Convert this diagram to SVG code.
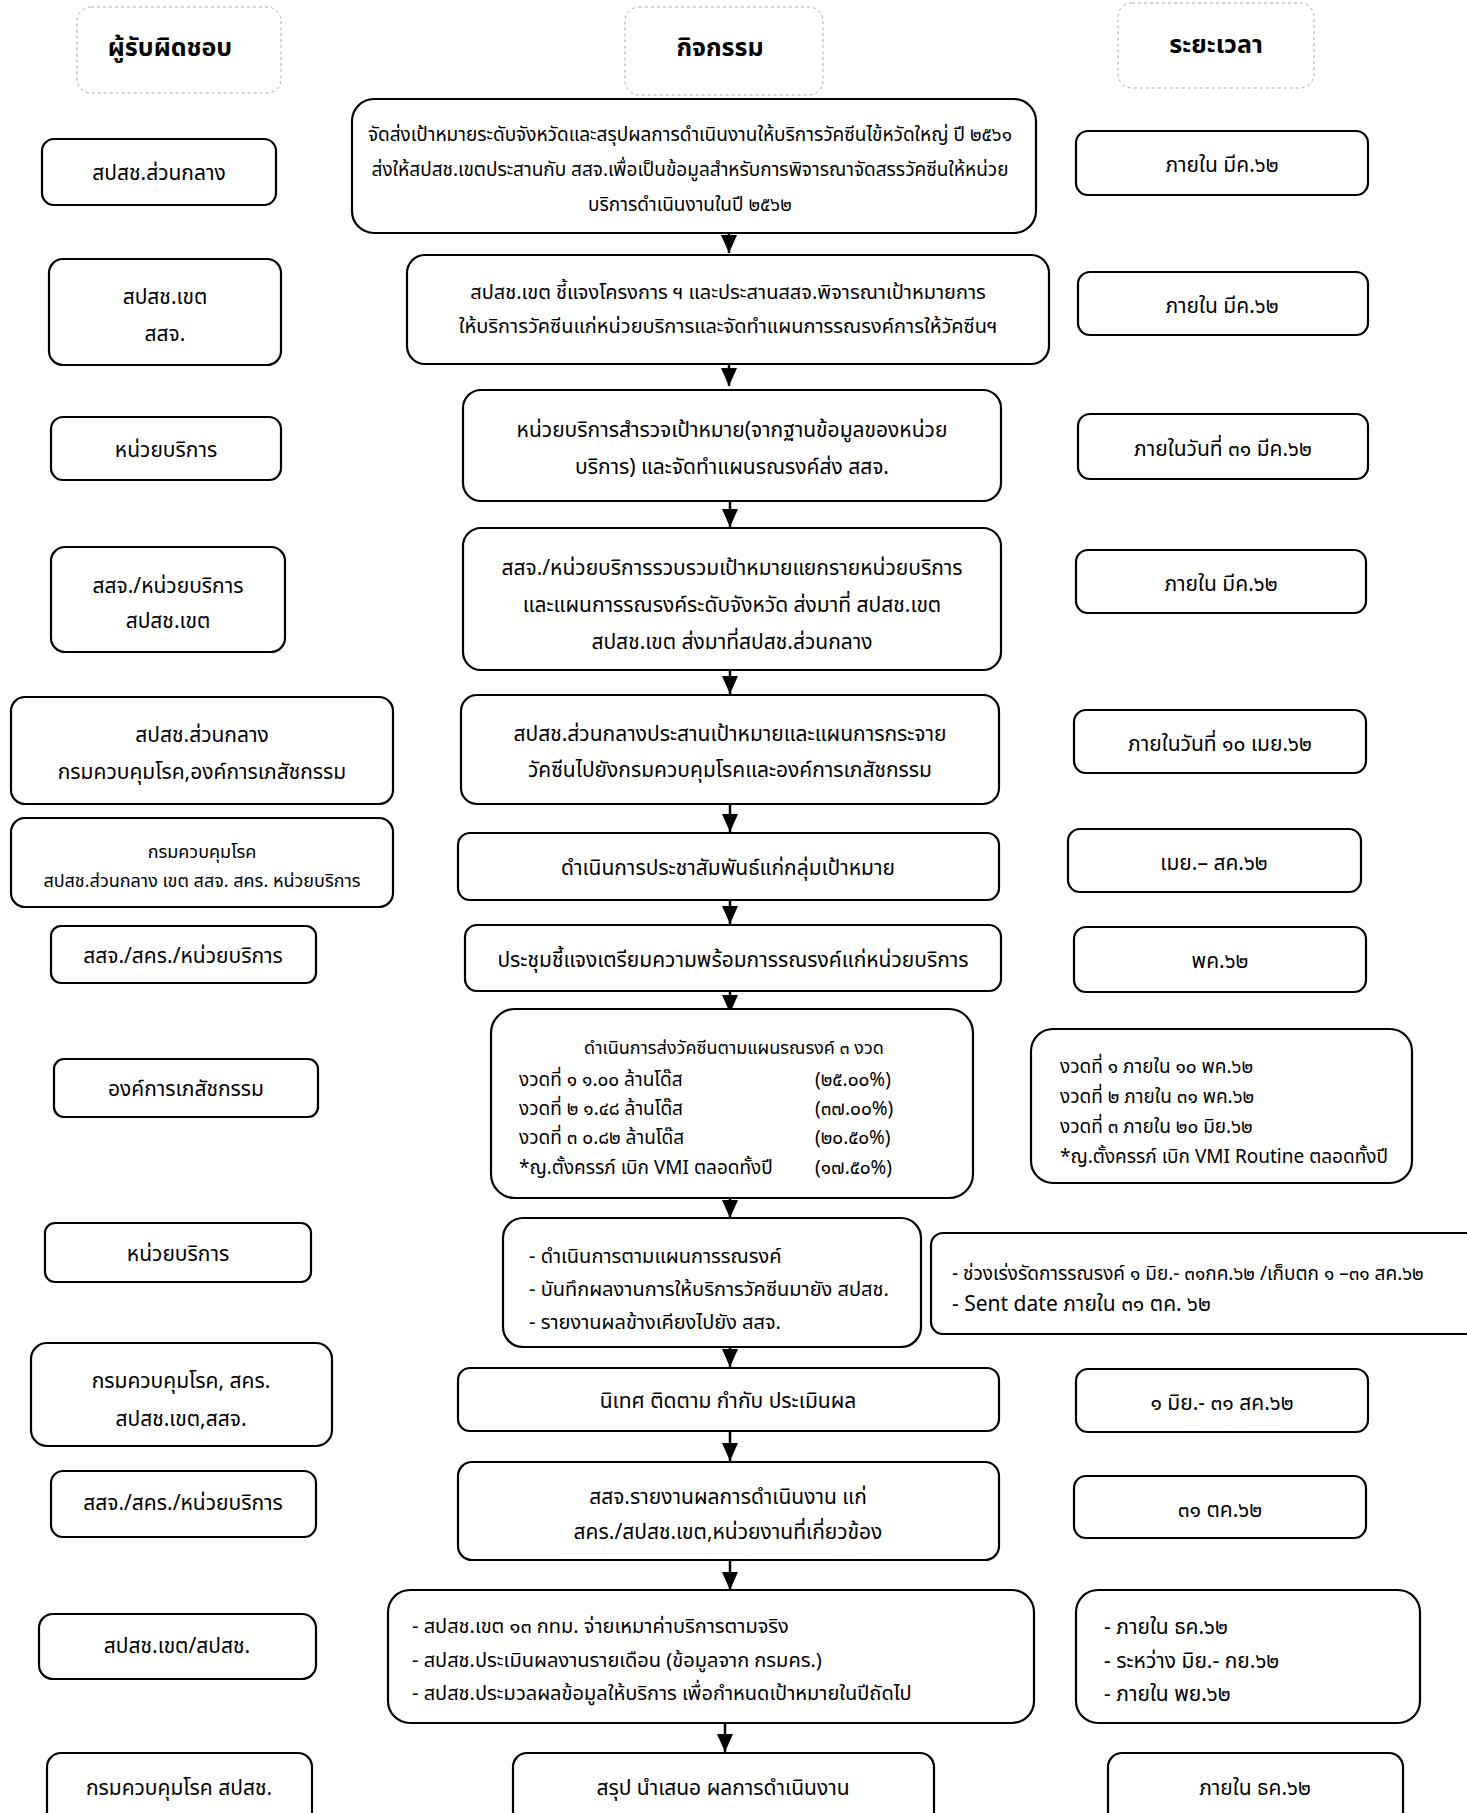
<svg xmlns="http://www.w3.org/2000/svg" width="1467" height="1813" viewBox="0 0 1467 1813">
<style>
.bg{fill:#fff}
.box{fill:#fff;stroke:#000;stroke-width:2.2}
.hdr{fill:none;stroke:#aaa;stroke-width:1;stroke-dasharray:3 3}
.t{font-family:"Noto Sans Thai","Noto Sans","DejaVu Sans",sans-serif;font-size:21px;fill:#000;text-anchor:middle;dominant-baseline:central}
.l{text-anchor:start}
.c1{font-size:19px}
.c2{font-size:20px}
.s{font-size:18px}
.m{font-size:19px}
.h{font-size:25px;font-weight:bold}
.con{stroke:#000;stroke-width:2.5;fill:none}
</style>
<defs>
<marker id="ah" markerUnits="userSpaceOnUse" markerWidth="18" markerHeight="16" refX="18" refY="8" orient="auto" viewBox="0 0 18 16">
<path d="M0,0 L18,8 L0,16 Z" fill="#000"/>
</marker>
</defs>
<rect class="bg" x="0" y="0" width="1467" height="1813"/>

<g id="headers">
<g id="h1"><rect class="hdr" x="77" y="7" width="204" height="86" rx="14"/><text class="t h" x="170" y="48">ผู้รับผิดชอบ</text></g>
<g id="h2"><rect class="hdr" x="625" y="7" width="198" height="88" rx="14"/><text class="t h" x="720" y="48">กิจกรรม</text></g>
<g id="h3"><rect class="hdr" x="1118" y="3" width="196" height="85" rx="14"/><text class="t h" x="1216" y="45">ระยะเวลา</text></g>
</g>

<g id="connectors">
<line class="con" x1="729" y1="233" x2="729" y2="253" marker-end="url(#ah)"/>
<line class="con" x1="729" y1="364" x2="729" y2="386" marker-end="url(#ah)"/>
<line class="con" x1="730" y1="501" x2="730" y2="527" marker-end="url(#ah)"/>
<line class="con" x1="730" y1="670" x2="730" y2="694" marker-end="url(#ah)"/>
<line class="con" x1="730" y1="804" x2="730" y2="832" marker-end="url(#ah)"/>
<line class="con" x1="730" y1="900" x2="730" y2="924" marker-end="url(#ah)"/>
<line class="con" x1="730" y1="991" x2="730" y2="1013" marker-end="url(#ah)"/>
<line class="con" x1="730" y1="1198" x2="730" y2="1218" marker-end="url(#ah)"/>
<line class="con" x1="730" y1="1347" x2="730" y2="1367" marker-end="url(#ah)"/>
<line class="con" x1="730" y1="1431" x2="730" y2="1461" marker-end="url(#ah)"/>
<line class="con" x1="730" y1="1560" x2="730" y2="1590" marker-end="url(#ah)"/>
<line class="con" x1="725" y1="1723" x2="725" y2="1752" marker-end="url(#ah)"/>
</g>

<g id="r1l"><rect class="box" x="42" y="139" width="234" height="66" rx="12"/><text class="t" x="159" y="173">สปสช.ส่วนกลาง</text></g>
<g id="r1c"><rect class="box" x="352" y="99" width="684" height="134" rx="22"/>
<text class="t c1" x="690" y="135">จัดส่งเป้าหมายระดับจังหวัดและสรุปผลการดำเนินงานให้บริการวัคซีนไข้หวัดใหญ่ ปี ๒๕๖๑</text>
<text class="t c1" x="690" y="170">ส่งให้สปสช.เขตประสานกับ สสจ.เพื่อเป็นข้อมูลสำหรับการพิจารณาจัดสรรวัคซีนให้หน่วย</text>
<text class="t c1" x="690" y="205">บริการดำเนินงานในปี  ๒๕๖๒</text></g>
<g id="r1r"><rect class="box" x="1076" y="131" width="292" height="64" rx="12"/><text class="t" x="1222" y="165">ภายใน มีค.๖๒</text></g>

<g id="r2l"><rect class="box" x="49" y="259" width="232" height="106" rx="14"/><text class="t" x="165" y="297">สปสช.เขต</text><text class="t" x="165" y="334">สสจ.</text></g>
<g id="r2c"><rect class="box" x="407" y="255" width="642" height="109" rx="18"/>
<text class="t c2" x="728" y="293">สปสช.เขต ชี้แจงโครงการ ฯ และประสานสสจ.พิจารณาเป้าหมายการ</text>
<text class="t c2" x="728" y="327">ให้บริการวัคซีนแก่หน่วยบริการและจัดทำแผนการรณรงค์การให้วัคซีนฯ</text></g>
<g id="r2r"><rect class="box" x="1078" y="272" width="290" height="63" rx="12"/><text class="t" x="1222" y="306">ภายใน มีค.๖๒</text></g>

<g id="r3l"><rect class="box" x="51" y="417" width="230" height="63" rx="12"/><text class="t" x="166" y="450">หน่วยบริการ</text></g>
<g id="r3c"><rect class="box" x="463" y="390" width="538" height="111" rx="18"/>
<text class="t" x="732" y="430">หน่วยบริการสำรวจเป้าหมาย(จากฐานข้อมูลของหน่วย</text>
<text class="t" x="732" y="467">บริการ) และจัดทำแผนรณรงค์ส่ง สสจ.</text></g>
<g id="r3r"><rect class="box" x="1078" y="414" width="290" height="65" rx="12"/><text class="t" x="1223" y="449">ภายในวันที่ ๓๑ มีค.๖๒</text></g>

<g id="r4l"><rect class="box" x="51" y="547" width="234" height="105" rx="14"/><text class="t" x="168" y="586">สสจ./หน่วยบริการ</text><text class="t" x="168" y="621">สปสช.เขต</text></g>
<g id="r4c"><rect class="box" x="463" y="528" width="538" height="142" rx="18"/>
<text class="t" x="732" y="568">สสจ./หน่วยบริการรวบรวมเป้าหมายแยกรายหน่วยบริการ</text>
<text class="t" x="732" y="605">และแผนการรณรงค์ระดับจังหวัด  ส่งมาที่ สปสช.เขต</text>
<text class="t" x="732" y="642">สปสช.เขต ส่งมาที่สปสช.ส่วนกลาง</text></g>
<g id="r4r"><rect class="box" x="1076" y="550" width="290" height="63" rx="12"/><text class="t" x="1221" y="584">ภายใน  มีค.๖๒</text></g>

<g id="r5l"><rect class="box" x="11" y="697" width="382" height="107" rx="14"/><text class="t" x="202" y="735">สปสช.ส่วนกลาง</text><text class="t" x="202" y="772">กรมควบคุมโรค,องค์การเภสัชกรรม</text></g>
<g id="r5c"><rect class="box" x="461" y="695" width="538" height="109" rx="16"/>
<text class="t" x="730" y="734">สปสช.ส่วนกลางประสานเป้าหมายและแผนการกระจาย</text>
<text class="t" x="730" y="770">วัคซีนไปยังกรมควบคุมโรคและองค์การเภสัชกรรม</text></g>
<g id="r5r"><rect class="box" x="1074" y="710" width="292" height="63" rx="12"/><text class="t" x="1220" y="744">ภายในวันที่ ๑๐ เมย.๖๒</text></g>

<g id="r6l"><rect class="box" x="11" y="818" width="382" height="89" rx="14"/><text class="t s" x="202" y="852">กรมควบคุมโรค</text><text class="t s" x="202" y="881">สปสช.ส่วนกลาง เขต  สสจ. สคร. หน่วยบริการ</text></g>
<g id="r6c"><rect class="box" x="458" y="833" width="541" height="67" rx="12"/><text class="t" x="728" y="868">ดำเนินการประชาสัมพันธ์แก่กลุ่มเป้าหมาย</text></g>
<g id="r6r"><rect class="box" x="1068" y="829" width="293" height="63" rx="12"/><text class="t" x="1214" y="863">เมย.– สค.๖๒</text></g>

<g id="r7l"><rect class="box" x="51" y="926" width="265" height="57" rx="10"/><text class="t" x="183" y="956">สสจ./สคร./หน่วยบริการ</text></g>
<g id="r7c"><rect class="box" x="465" y="925" width="536" height="66" rx="12"/><text class="t" x="733" y="960">ประชุมชี้แจงเตรียมความพร้อมการรณรงค์แก่หน่วยบริการ</text></g>
<g id="r7r"><rect class="box" x="1074" y="927" width="292" height="65" rx="12"/><text class="t" x="1220" y="961">พค.๖๒</text></g>

<g id="r8l"><rect class="box" x="54" y="1059" width="264" height="58" rx="10"/><text class="t" x="186" y="1089">องค์การเภสัชกรรม</text></g>
<g id="r8c"><rect class="box" x="491" y="1009" width="482" height="189" rx="24"/>
<text class="t s" x="734" y="1048">ดำเนินการส่งวัคซีนตามแผนรณรงค์ ๓ งวด</text>
<text class="t m l" x="519" y="1080">งวดที่ ๑  ๑.๐๐ ล้านโด๊ส</text><text class="t m l" x="815" y="1080">(๒๕.๐๐%)</text>
<text class="t m l" x="519" y="1109">งวดที่ ๒  ๑.๔๘ ล้านโด๊ส</text><text class="t m l" x="815" y="1109">(๓๗.๐๐%)</text>
<text class="t m l" x="519" y="1138">งวดที่ ๓  ๐.๘๒  ล้านโด๊ส</text><text class="t m l" x="815" y="1138">(๒๐.๕๐%)</text>
<text class="t m l" x="519" y="1168">*ญ.ตั้งครรภ์ เบิก VMI ตลอดทั้งปี</text><text class="t m l" x="815" y="1168">(๑๗.๕๐%)</text></g>
<g id="r8r"><rect class="box" x="1031" y="1029" width="381" height="154" rx="22"/>
<text class="t m l" x="1060" y="1067">งวดที่ ๑ ภายใน   ๑๐ พค.๖๒</text>
<text class="t m l" x="1060" y="1097">งวดที่ ๒ ภายใน   ๓๑ พค.๖๒</text>
<text class="t m l" x="1060" y="1127">งวดที่ ๓ ภายใน  ๒๐ มิย.๖๒</text>
<text class="t m l" x="1060" y="1157">*ญ.ตั้งครรภ์ เบิก VMI Routine ตลอดทั้งปี</text></g>

<g id="r9l"><rect class="box" x="45" y="1223" width="266" height="59" rx="10"/><text class="t" x="178" y="1254">หน่วยบริการ</text></g>
<g id="r9c"><rect class="box" x="503" y="1218" width="418" height="129" rx="20"/>
<text class="t c2 l" x="529" y="1257">- ดำเนินการตามแผนการรณรงค์</text>
<text class="t c2 l" x="529" y="1290">- บันทึกผลงานการให้บริการวัคซีนมายัง สปสช.</text>
<text class="t c2 l" x="529" y="1323">- รายงานผลข้างเคียงไปยัง สสจ.</text></g>
<g id="r9r"><rect class="box" x="931" y="1233" width="600" height="101" rx="12"/>
<text class="t m l" x="952" y="1274">- ช่วงเร่งรัดการรณรงค์ ๑ มิย.- ๓๑กค.๖๒ /เก็บตก ๑ –๓๑ สค.๖๒</text>
<text class="t l" x="952" y="1304">- Sent date  ภายใน ๓๑ ตค. ๖๒</text></g>

<g id="r10l"><rect class="box" x="31" y="1343" width="301" height="103" rx="16"/><text class="t" x="181" y="1381">กรมควบคุมโรค, สคร.</text><text class="t" x="181" y="1419">สปสช.เขต,สสจ.</text></g>
<g id="r10c"><rect class="box" x="458" y="1368" width="541" height="63" rx="12"/><text class="t" x="728" y="1401">นิเทศ ติดตาม กำกับ ประเมินผล</text></g>
<g id="r10r"><rect class="box" x="1076" y="1369" width="292" height="63" rx="12"/><text class="t" x="1222" y="1403">๑ มิย.- ๓๑ สค.๖๒</text></g>

<g id="r11l"><rect class="box" x="51" y="1471" width="265" height="66" rx="12"/><text class="t" x="183" y="1503">สสจ./สคร./หน่วยบริการ</text></g>
<g id="r11c"><rect class="box" x="458" y="1462" width="541" height="98" rx="14"/>
<text class="t" x="728" y="1497">สสจ.รายงานผลการดำเนินงาน แก่</text>
<text class="t" x="728" y="1532">สคร./สปสช.เขต,หน่วยงานที่เกี่ยวข้อง</text></g>
<g id="r11r"><rect class="box" x="1074" y="1476" width="292" height="62" rx="12"/><text class="t" x="1220" y="1510">๓๑ ตค.๖๒</text></g>

<g id="r12l"><rect class="box" x="39" y="1614" width="277" height="65" rx="14"/><text class="t" x="177" y="1646">สปสช.เขต/สปสช.</text></g>
<g id="r12c"><rect class="box" x="388" y="1590" width="646" height="133" rx="22"/>
<text class="t c2 l" x="412" y="1627">- สปสช.เขต ๑๓ กทม. จ่ายเหมาค่าบริการตามจริง</text>
<text class="t c2 l" x="412" y="1661">- สปสช.ประเมินผลงานรายเดือน (ข้อมูลจาก กรมคร.)</text>
<text class="t c2 l" x="412" y="1694">- สปสช.ประมวลผลข้อมูลให้บริการ เพื่อกำหนดเป้าหมายในปีถัดไป</text></g>
<g id="r12r"><rect class="box" x="1076" y="1590" width="344" height="133" rx="22"/>
<text class="t l" x="1104" y="1627">- ภายใน ธค.๖๒</text>
<text class="t l" x="1104" y="1661">- ระหว่าง มิย.-  กย.๖๒</text>
<text class="t l" x="1104" y="1694">- ภายใน พย.๖๒</text></g>

<g id="r13l"><rect class="box" x="47" y="1753" width="265" height="80" rx="14"/><text class="t" x="179" y="1788">กรมควบคุมโรค สปสช.</text></g>
<g id="r13c"><rect class="box" x="513" y="1753" width="421" height="80" rx="14"/><text class="t" x="723" y="1788">สรุป นำเสนอ ผลการดำเนินงาน</text></g>
<g id="r13r"><rect class="box" x="1108" y="1753" width="295" height="80" rx="14"/><text class="t" x="1255" y="1788">ภายใน ธค.๖๒</text></g>
</svg>
